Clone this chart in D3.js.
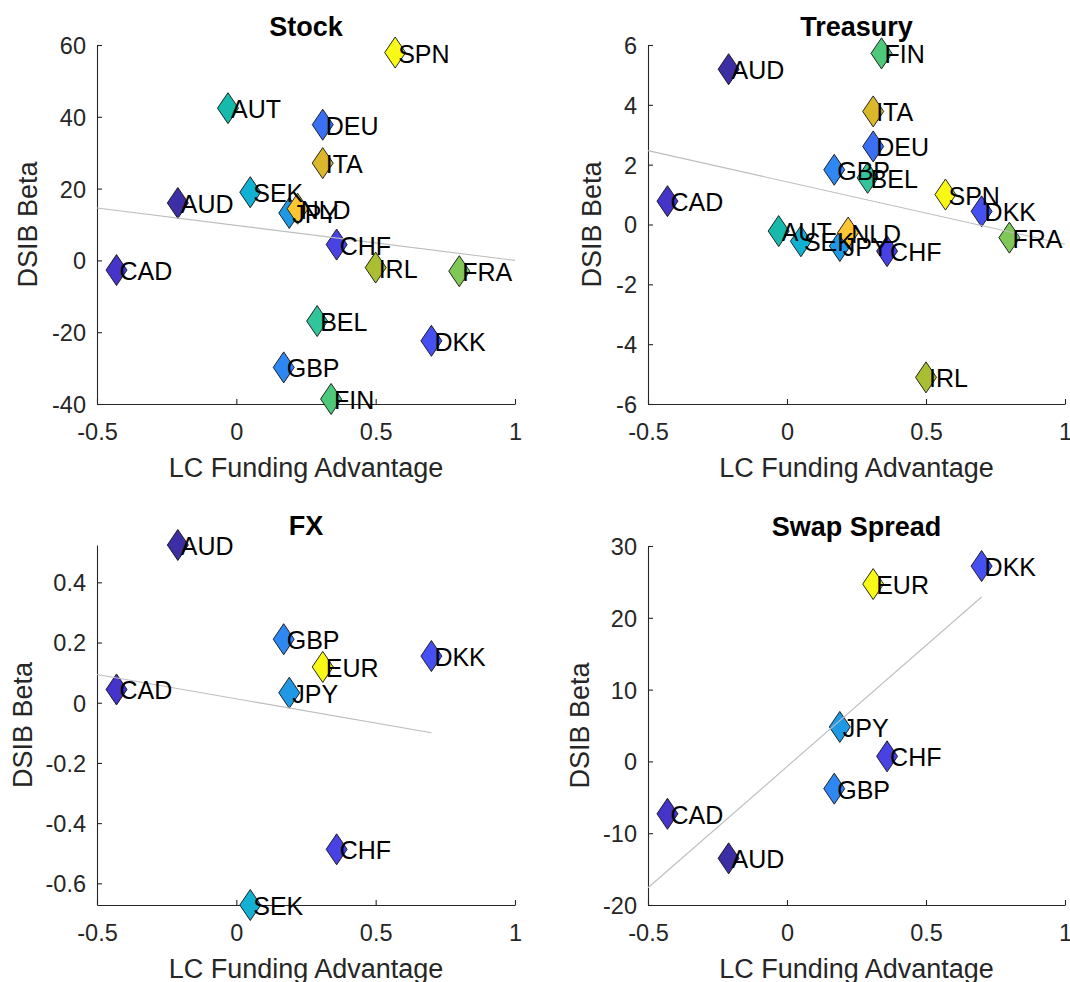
<!DOCTYPE html>
<html>
<head>
<meta charset="utf-8">
<script src="https://cdnjs.cloudflare.com/ajax/libs/d3/7.8.5/d3.min.js"></script>
<style>
  html, body { margin: 0; padding: 0; background: #ffffff; }
  svg { display: block; }
  text { font-family: "Liberation Sans", Arial, Helvetica, sans-serif; }
</style>
</head>
<body>
<svg id="chart" width="1070" height="982"></svg>
<script>
// ---------------- DATA ----------------
const countries   = ["AUD","CAD","CHF","DKK","DEU","GBP","JPY","SEK","AUT","BEL","FIN","FRA","IRL","ITA","NLD","SPN"];
const countryColors = ["#3c2fa6","#4434c9","#4841e4","#4650f0","#3a6ff4","#2e87f3","#1f98e6","#12b1d4","#18b9ad","#32c49a","#4ec87a","#7fc857","#a9bf31","#dbb72b","#fcc633","#f8f916"];
const lcAdvantage = [-0.21,-0.43, 0.36, 0.70, 0.31, 0.17, 0.19, 0.05,-0.03, 0.29, 0.34, 0.80, 0.50, 0.31, 0.22, 0.57];
const stockBeta   = [ 16.0, -2.7,  4.4,-22.4, 37.8,-29.8, 13.2, 19.0, 42.4,-16.9,-38.6, -3.0, -2.0, 27.1, 14.4, 57.9];
const treasuryBeta= [ 5.19, 0.78,-0.89, 0.44, 2.61, 1.83,-0.72,-0.56,-0.22, 1.56, 5.72,-0.44,-5.11, 3.78,-0.27, 1.00];

const currencies     = ["AUD","CAD","CHF","DKK","GBP","JPY","SEK","EUR"];
const currencyColors = ["#3c2fa6","#4434c9","#4841e4","#4650f0","#2e87f3","#1f98e6","#12b1d4","#f8f916"];
const currencyLC     = [-0.21,-0.43, 0.36, 0.70, 0.17, 0.19, 0.05, 0.31];
const fxBeta         = [0.524, 0.044,-0.487, 0.155, 0.211, 0.033,-0.672, 0.119];
const swapCurrencies = ["AUD","CAD","CHF","DKK","GBP","JPY","EUR"];
const swapBeta       = [-13.5, -7.3, 0.7, 27.2, -3.8, 4.8, 24.7];

// fitted lines: [x0, x1] and [y0, y1]
const fitX = { stock:[-0.5,1.0], treasury:[-0.5,1.0], fx:[-0.5,0.70], swap:[-0.5,0.70] };
const fitY = { stock:[14.6,0.0], treasury:[2.47,-0.66], fx:[0.094,-0.10], swap:[-17.6,22.9] };

const xTicks = [-0.5, 0, 0.5, 1];
const stockTicks = [-40,-20,0,20,40,60];
const treasuryTicks = [-6,-4,-2,0,2,4,6];
const fxTicks = [-0.6,-0.4,-0.2,0,0.2,0.4];
const swapTicks = [-20,-10,0,10,20,30];

const titles = { stock:"Stock", treasury:"Treasury", fx:"FX", swap:"Swap Spread" };
const xLabel = "LC Funding Advantage";
const yLabel = "DSIB Beta";

// ---------------- LAYOUT ----------------
const svg = d3.select("#chart");
svg.append("rect").attr("width",1070).attr("height",982).attr("fill","#fff");

const axisColor = "#262626";
const tickFont = 23.5, labelFont = 27, titleFont = 27, pointFont = 25;
const fmt = d => String(d);

function panel(cfg) {
  const x = d3.scaleLinear().domain([-0.5, 1]).range([cfg.left, cfg.right]);
  const y = d3.scaleLinear().domain(cfg.yDomain).range([cfg.bottom, cfg.top]);
  const g = svg.append("g");

  // x axis (bottom), ticks inward
  const xa = g.append("g").attr("transform", `translate(0,${cfg.bottom})`)
    .call(d3.axisBottom(x).tickValues(xTicks).tickSize(-5).tickSizeOuter(0).tickPadding(0).tickFormat(fmt));
  xa.select(".domain").attr("stroke", axisColor).attr("stroke-width", 1.1);
  xa.selectAll(".tick line").attr("stroke", axisColor).attr("stroke-width", 1.1);
  xa.selectAll(".tick text").attr("fill", axisColor).attr("font-size", tickFont)
    .attr("y", 36).attr("dy", 0).attr("font-family", '"Liberation Sans", Arial, sans-serif');

  // y axis (left), ticks inward
  const ya = g.append("g").attr("transform", `translate(${cfg.left},0)`)
    .call(d3.axisLeft(y).tickValues(cfg.yTicks).tickSize(-5).tickSizeOuter(0).tickPadding(0).tickFormat(fmt));
  ya.select(".domain").attr("stroke", axisColor).attr("stroke-width", 1.1);
  ya.selectAll(".tick line").attr("stroke", axisColor).attr("stroke-width", 1.1);
  ya.selectAll(".tick text").attr("fill", axisColor).attr("font-size", tickFont)
    .attr("x", -11).attr("dy", "0.36em").attr("font-family", '"Liberation Sans", Arial, sans-serif');

  // markers
  const hw = 10.5, hh = 15.5;
  const diamond = `M0,${-hh}L${hw},0L0,${hh}L${-hw},0Z`;
  const pts = cfg.names.map((n, i) => ({ n, x: cfg.xs[i], y: cfg.ys[i], c: cfg.colors[i] }));
  g.append("g").selectAll("path").data(pts).join("path")
    .attr("d", diamond)
    .attr("transform", d => `translate(${x(d.x)},${y(d.y)})`)
    .attr("fill", d => d.c).attr("stroke", "#111").attr("stroke-width", 0.9);

  // fit line
  g.append("line")
    .attr("x1", x(cfg.fitX[0])).attr("y1", y(cfg.fitY[0]))
    .attr("x2", x(cfg.fitX[1])).attr("y2", y(cfg.fitY[1]))
    .attr("stroke", "#bdbdbd").attr("stroke-width", 1.1);

  // point labels
  g.append("g").selectAll("text").data(pts).join("text")
    .attr("x", d => x(d.x) + 3).attr("y", d => y(d.y) + 10)
    .attr("font-size", pointFont).attr("fill", "#000").text(d => d.n);

  // title
  g.append("text").attr("x", (cfg.left + cfg.right) / 2).attr("y", cfg.top + cfg.titleDy)
    .attr("text-anchor", "middle").attr("font-weight", "bold").attr("font-size", titleFont)
    .attr("fill", "#000").text(cfg.title);

  // x label
  g.append("text").attr("x", (cfg.left + cfg.right) / 2).attr("y", cfg.bottom + 73)
    .attr("text-anchor", "middle").attr("font-size", labelFont).attr("fill", axisColor).text(xLabel);

  // y label
  const yc = (cfg.top + cfg.bottom) / 2;
  g.append("text").attr("transform", `translate(${cfg.left - cfg.ylabOff},${yc}) rotate(-90)`)
    .attr("text-anchor", "middle").attr("font-size", labelFont).attr("fill", axisColor).text(yLabel);
}

panel({ left:97, right:515, top:45, bottom:404, yDomain:[-40,60], yTicks:stockTicks,
  names:countries, xs:lcAdvantage, ys:stockBeta, colors:countryColors,
  fitX:fitX.stock, fitY:fitY.stock, title:titles.stock, titleDy:-9, ylabOff:60 });

panel({ left:648, right:1065, top:45, bottom:404, yDomain:[-6,6], yTicks:treasuryTicks,
  names:countries, xs:lcAdvantage, ys:treasuryBeta, colors:countryColors,
  fitX:fitX.treasury, fitY:fitY.treasury, title:titles.treasury, titleDy:-9, ylabOff:47 });

panel({ left:97, right:515, top:545, bottom:905, yDomain:[d3.min(fxBeta), d3.max(fxBeta)], yTicks:fxTicks,
  names:currencies, xs:currencyLC, ys:fxBeta, colors:currencyColors,
  fitX:fitX.fx, fitY:fitY.fx, title:titles.fx, titleDy:-10, ylabOff:65 });

panel({ left:648, right:1065, top:546, bottom:905, yDomain:[-20,30], yTicks:swapTicks,
  names:swapCurrencies,
  xs:swapCurrencies.map(c => currencyLC[currencies.indexOf(c)]),
  ys:swapBeta,
  colors:swapCurrencies.map(c => currencyColors[currencies.indexOf(c)]),
  fitX:fitX.swap, fitY:fitY.swap, title:titles.swap, titleDy:-10, ylabOff:59 });
</script>
</body>
</html>
